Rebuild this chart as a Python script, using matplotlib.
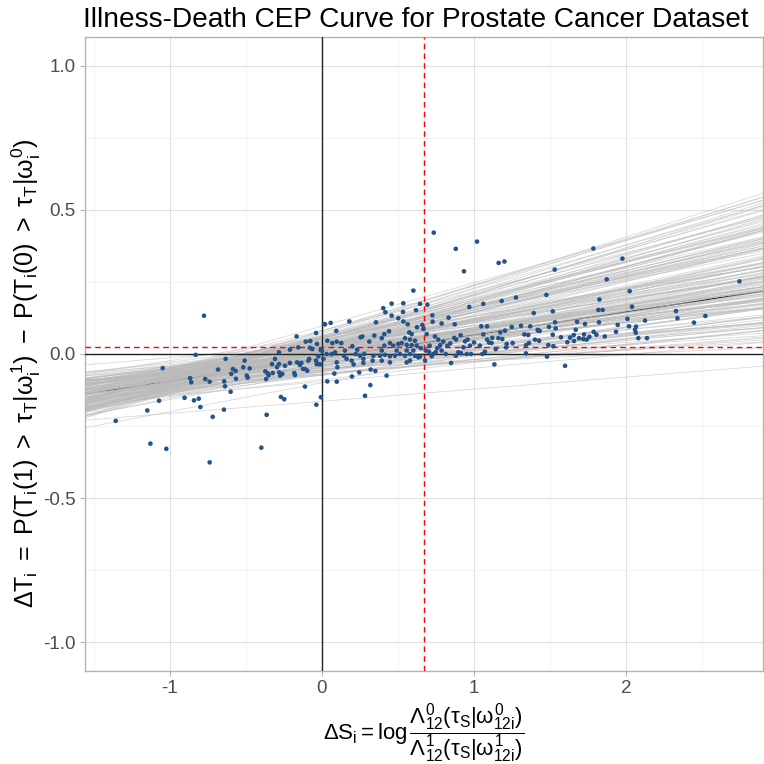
"""Illness-death CEP curve for the prostate cancer dataset."""
import matplotlib

matplotlib.use("Agg")
import matplotlib.pyplot as plt
import numpy as np

plt.rcParams["font.family"] = ["Liberation Sans", "DejaVu Sans"]
plt.rcParams["mathtext.fontset"] = "custom"
plt.rcParams["mathtext.rm"] = "Liberation Sans"
plt.rcParams["mathtext.it"] = "Liberation Sans"
plt.rcParams["mathtext.bf"] = "Liberation Sans:bold"
plt.rcParams["axes.unicode_minus"] = False

# individual treatment effects (delta S, delta T)
delta_s = [
    -0.776, -0.831, -1.048, -0.868, -0.860, -0.768, -0.739, -1.072, -0.904, -0.842,
    -0.811, -0.800, -1.149, -1.357, -1.129, -1.024, -0.739,
    -0.634, -0.684, -0.586, -0.568, -0.597, -0.566, -0.643, -0.638, -0.601, -0.645,
    -0.719, -0.509, -0.518, -0.476, -0.495, -0.489, -0.399, -0.364, -0.270, -0.248,
    -0.373, -0.357, -0.351, -0.368, -0.324, -0.309, -0.329, -0.296, -0.283, -0.281,
    -0.261, -0.276, -0.243, -0.283, -0.211, -0.211, -0.167, -0.182, -0.178, -0.156,
    -0.164, -0.136, -0.145, -0.125, -0.112, -0.097, -0.112, -0.107, -0.077, -0.079,
    -0.064, -0.039, -0.033, -0.024, -0.039, -0.090, -0.084, -0.035, -0.018, -0.037,
    -0.007, 0.000, 0.009, 0.013,
    0.020, 0.057, 0.094, 0.180, 0.035, 0.068, 0.097, 0.127, -0.009, 0.031,
    0.064, 0.086, 0.151, 0.145, 0.200, 0.162, 0.195, 0.097, 0.101, -0.013,
    0.081, 0.035, 0.097, 0.197, 0.208, 0.245, 0.222, 0.232, 0.254, 0.265,
    0.311, 0.278, 0.272, 0.272, 0.333, 0.320, 0.351, 0.318, 0.283, 0.344,
    0.355, 0.393, 0.410, 0.441, 0.403, 0.417, 0.458, 0.458, 0.535, 0.601,
    0.533, 0.502, 0.618, 0.645, 0.693, 0.564, 0.535, 0.625, 0.660, 0.574,
    0.590, 0.546, 0.579, 0.612, 0.667, 0.689, 0.410, 0.447, 0.469, 0.502,
    0.524, 0.557, 0.590, 0.623, 0.651, 0.382, 0.414, 0.447, 0.480, 0.513,
    0.546, 0.579, 0.612, 0.645, 0.393, 0.491, 0.557, 0.601, 0.425, 0.557,
    0.579, 0.634, 0.678, 0.393, 0.447, 0.250, 0.338,
    0.735, 0.880, 1.020, 0.934, 1.162, 1.200, 0.726, 0.728, 0.787, 0.833,
    0.873, 0.969, 1.061, 1.182, 1.276, 1.393, 1.048, 1.086, 1.061, 0.912,
    0.882, 0.870, 0.743, 0.765, 0.798, 0.825, 0.844, 0.778, 0.758, 0.787,
    0.814, 0.748, 0.708, 0.682, 0.704, 0.722, 0.732, 0.849, 0.880, 0.897,
    0.914, 0.952, 0.980, 0.930, 0.941, 0.958, 0.974, 1.000, 1.039, 1.055,
    1.072, 1.086, 1.099, 1.120, 1.116, 1.143, 1.160, 1.173, 1.186, 1.204,
    1.215, 1.211, 1.134, 1.248, 1.254, 1.309, 1.331, 1.357, 1.370, 1.342,
    1.342, 1.362, 1.401, 1.423,
    1.785, 1.976, 1.531, 1.873, 1.476, 2.024, 1.825, 2.039, 1.818, 1.846,
    1.518, 1.678, 1.533, 1.730, 1.822, 2.009, 2.125, 1.493, 1.537, 1.419,
    1.432, 1.669, 1.945, 2.020, 2.066, 2.059, 2.064, 1.934, 1.787, 1.805,
    1.860, 2.081, 2.138, 1.518, 1.656, 1.724, 1.572, 1.632, 1.691, 1.719,
    1.741, 1.759, 1.614, 1.658, 1.428, 1.489, 1.522, 1.480, 1.599,
    2.746, 2.329, 2.338, 2.522, 2.447,
]
delta_t = [
    0.133, -0.003, -0.049, -0.084, -0.098, -0.087, -0.096, -0.162, -0.152, -0.161,
    -0.155, -0.184, -0.196, -0.232, -0.311, -0.329, -0.376,
    -0.017, -0.054, -0.052, -0.059, -0.069, -0.086, -0.095, -0.112, -0.131, -0.193,
    -0.218, -0.023, -0.046, -0.050, -0.075, -0.082, -0.325, -0.211, -0.149, -0.157,
    -0.060, -0.067, -0.074, -0.087, -0.066, -0.017, -0.035, -0.046, -0.035, -0.064,
    -0.069, -0.075, -0.041, 0.006, -0.031, 0.015, 0.061, -0.066, -0.073, 0.023,
    -0.029, -0.031, -0.038, -0.052, -0.052, -0.058, -0.113, 0.043, 0.045, 0.021,
    0.017, 0.073, 0.035, -0.008, -0.023, -0.023, -0.017, -0.035, -0.035, -0.176,
    -0.150, 0.011, -0.017, 0.104,
    0.103, 0.108, 0.080, 0.113, 0.046, 0.038, 0.043, 0.038, 0.014, 0.000,
    0.000, 0.006, 0.012, -0.006, 0.027, -0.017, -0.023, -0.029, -0.046, -0.036,
    -0.068, -0.095, -0.096, -0.078, -0.036, -0.064, 0.000, 0.015, 0.058, 0.061,
    0.043, 0.000, -0.017, -0.031, -0.023, -0.054, -0.059, -0.108, -0.145, 0.064,
    0.110, 0.055, 0.069, 0.079, 0.159, 0.145, 0.175, 0.133, 0.176, 0.220,
    0.146, 0.124, 0.152, 0.174, 0.171, 0.103, 0.113, 0.093, 0.101, 0.075,
    0.069, 0.055, 0.050, 0.046, 0.087, 0.069, 0.029, 0.038, 0.029, 0.035,
    0.038, 0.032, 0.031, 0.029, 0.020, -0.006, -0.003, -0.008, -0.006, 0.000,
    -0.006, 0.000, -0.006, -0.009, 0.012, 0.012, 0.012, 0.012, -0.075, -0.029,
    -0.023, -0.012, -0.023, -0.023, -0.029, -0.006, -0.006,
    0.421, 0.365, 0.390, 0.287, 0.316, 0.321, 0.134, 0.112, 0.106, 0.126,
    0.103, 0.163, 0.174, 0.184, 0.196, 0.142, 0.096, 0.096, 0.068, 0.065,
    0.050, 0.056, 0.061, 0.050, 0.043, 0.029, 0.037, 0.031, 0.020, 0.012,
    0.000, 0.006, 0.029, 0.012, 0.008, -0.008, 0.000, -0.031, -0.006, 0.006,
    0.003, 0.000, 0.000, 0.023, 0.044, 0.050, 0.029, 0.040, 0.029, 0.000,
    0.008, 0.050, 0.040, 0.056, 0.038, 0.017, 0.055, 0.075, 0.052, 0.081,
    0.035, 0.023, -0.036, 0.094, 0.038, 0.098, 0.068, 0.066, 0.096, 0.031,
    0.002, 0.038, 0.050, 0.081,
    0.366, 0.331, 0.293, 0.259, 0.205, 0.218, 0.189, 0.164, 0.153, 0.153,
    0.148, 0.112, 0.110, 0.104, 0.110, 0.122, 0.116, 0.094, 0.089, 0.084,
    0.080, 0.084, 0.101, 0.096, 0.095, 0.084, 0.074, 0.077, 0.077, 0.067,
    0.061, 0.055, 0.055, 0.067, 0.066, 0.068, 0.058, 0.057, 0.055, 0.052,
    0.050, 0.060, 0.041, 0.045, 0.046, 0.031, 0.027, -0.009, -0.041,
    0.252, 0.149, 0.124, 0.132, 0.109,
]

# posterior draws of the CEP regression line
draw_intercept = [
    -0.002, -0.061, 0.056, -0.023, 0.020, -0.096, 0.025, 0.028, -0.044, 0.020,
    0.022, -0.005, 0.011, -0.012, -0.022, -0.044, 0.010, -0.034, 0.056, 0.005,
    -0.012, 0.028, -0.040, 0.040, -0.041, -0.061, 0.023, 0.006, 0.009, 0.060,
    -0.003, -0.027, -0.016, 0.021, -0.001, 0.007, 0.013, -0.089, 0.016, 0.029,
    0.013, -0.001, -0.041, 0.023, 0.012, -0.024, 0.031, -0.030, -0.007, 0.006,
    -0.061, -0.017, 0.036, 0.032, -0.006, -0.004, 0.035, -0.017, -0.010, -0.002,
    -0.036, 0.001, 0.021, 0.008, -0.028, 0.035, 0.015, -0.058, 0.053, 0.022,
    -0.048, 0.031, -0.073, 0.061, -0.015, 0.031, -0.020, 0.002, -0.011, -0.021,
    -0.038, 0.052, -0.071, 0.065, -0.046, 0.019, 0.042, 0.002, -0.027, 0.070,
    -0.055, 0.055, -0.012, -0.030, 0.062, -0.003, 0.014, -0.071, 0.037, 0.047,
    -0.005, 0.044, -0.039, 0.045, -0.005, 0.013, -0.013, 0.022, -0.069, 0.050,
    0.041, 0.002, 0.043, -0.057, 0.074, -0.053, 0.049, 0.022, 0.018, 0.027,
    -0.051, 0.035, 0.008, 0.082, -0.074, 0.020, 0.025, 0.005, 0.028, -0.028,
    -0.028, 0.060, 0.025, 0.054, 0.015, -0.006, -0.064, 0.057, -0.016, 0.025,
    -0.014, 0.058, 0.026, -0.055, 0.041, -0.032, 0.007, 0.000, 0.079, -0.055,
    0.056, 0.011, 0.017, 0.063, -0.070, 0.048, -0.039, 0.054, -0.006, 0.031,
    0.097, 0.080, -0.164, -0.100, -0.050,
]
draw_slope = [
    0.081, 0.062, 0.104, 0.075, 0.093, 0.047, 0.118, 0.086, 0.069, 0.098,
    0.055, 0.128, 0.079, 0.091, 0.066, 0.109, 0.073, 0.084, 0.139, 0.058,
    0.096, 0.071, 0.088, 0.113, 0.052, 0.077, 0.101, 0.064, 0.122, 0.083,
    0.095, 0.041, 0.107, 0.069, 0.087, 0.115, 0.076, 0.059, 0.099, 0.082,
    0.131, 0.072, 0.092, 0.061, 0.105, 0.079, 0.089, 0.048, 0.116, 0.074,
    0.097, 0.066, 0.084, 0.145, 0.057, 0.094, 0.078, 0.111, 0.068, 0.086,
    0.102, 0.054, 0.124, 0.081, 0.090, 0.063, 0.108, 0.075, 0.136, 0.085,
    0.060, 0.099, 0.070, 0.119, 0.083, 0.044, 0.093, 0.080, 0.112, 0.067,
    0.035, 0.155, 0.062, 0.128, 0.047, 0.142, 0.090, 0.115, 0.056, 0.168,
    0.073, 0.133, 0.041, 0.108, 0.150, 0.065, 0.122, 0.052, 0.095, 0.160,
    0.038, 0.137, 0.079, 0.118, 0.058, 0.146, 0.070, 0.125, 0.044, 0.103,
    0.164, 0.060, 0.131, 0.086, 0.152, 0.050, 0.112, 0.140, 0.066, 0.120,
    0.032, 0.148, 0.076, 0.135, 0.054, 0.098, 0.158, 0.068, 0.126, 0.045,
    0.110, 0.143, 0.083, 0.162, 0.058, 0.117, 0.039, 0.130, 0.072, 0.153,
    0.049, 0.106, 0.139, 0.063, 0.124, 0.036, 0.145, 0.088, 0.157, 0.053,
    0.114, 0.134, 0.070, 0.166, 0.043, 0.121, 0.094, 0.147, 0.057, 0.129,
    0.150, 0.160, 0.042, 0.100, 0.025,
]
mean_intercept = -0.014
mean_slope = 0.080
mean_delta_s = 0.673
mean_delta_t = 0.024

x_ticks = [-1, 0, 1, 2]
x_tick_labels = ["-1", "0", "1", "2"]
y_ticks = [-1.0, -0.5, 0.0, 0.5, 1.0]
y_tick_labels = ["-1.0", "-0.5", "0.0", "0.5", "1.0"]

fig = plt.figure(figsize=(7.64, 7.64), dpi=100)
ax = fig.add_axes([85 / 764, 1 - 671 / 764, 678 / 764, 634 / 764])

xlim = (-1.559, 2.901)
ax.set_xlim(*xlim)
ax.set_ylim(-1.1, 1.1)

ax.set_xticks(x_ticks)
ax.set_xticklabels(x_tick_labels)
ax.set_yticks(y_ticks)
ax.set_yticklabels(y_tick_labels)
ax.set_xticks([-1.5, -0.5, 0.5, 1.5, 2.5], minor=True)
ax.set_yticks([-0.75, -0.25, 0.25, 0.75], minor=True)
ax.grid(which="major", color="#e0e0e0", linewidth=0.8, zorder=0)
ax.grid(which="minor", color="#efefef", linewidth=0.5, zorder=0)
ax.set_axisbelow(True)
ax.tick_params(which="major", length=3.5, width=0.8, color="#b3b3b3",
               labelsize=13.5, labelcolor="#4d4d4d", pad=3)
ax.tick_params(which="minor", length=0)
for spine in ax.spines.values():
    spine.set_color("#b3b3b3")
    spine.set_linewidth(1.0)

xs = np.array(xlim)
ax.plot(xs, mean_intercept + mean_slope * xs, color="#333333", lw=1.0, zorder=1.5)
for a, b in zip(draw_intercept, draw_slope):
    ax.plot(xs, a + b * xs, color="#bababa", lw=0.6, alpha=0.55, zorder=2)

ax.axhline(0, color="#222222", lw=1.0, zorder=3)
ax.axvline(0, color="#222222", lw=1.0, zorder=3)
ax.axhline(mean_delta_t, color="red", lw=1.0, ls=(0, (4, 3)), zorder=3)
ax.axvline(mean_delta_s, color="red", lw=1.0, ls=(0, (4, 3)), zorder=3)

ax.scatter(delta_s, delta_t, s=11, color="#24538a", edgecolors="none", zorder=4)

ax.set_title("Illness-Death CEP Curve for Prostate Cancer Dataset",
             loc="left", fontsize=20.2, pad=7, x=-0.003)
ax.set_xlabel(r"$\Delta S_i = \log\dfrac{\Lambda_{12}^{0}(\tau_S|\omega_{12i}^{0})}"
              r"{\Lambda_{12}^{1}(\tau_S|\omega_{12i}^{1})}$",
              fontsize=16, labelpad=3)
ax.set_ylabel(r"$\Delta T_i\ =\ P(T_i(1)\ >\ \tau_T|\omega_i^1)\ -\ "
              r"P(T_i(0)\ >\ \tau_T|\omega_i^0)$",
              fontsize=18)
ax.yaxis.set_label_coords(-0.062, 0.47)

fig.savefig("out.png", dpi=100)
